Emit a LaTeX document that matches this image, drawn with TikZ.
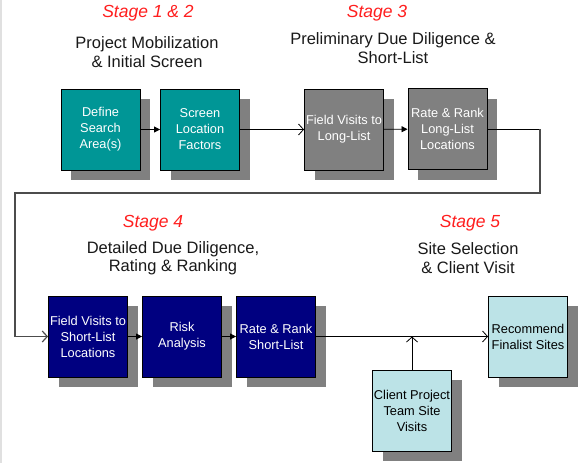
\documentclass[tikz,border=0pt]{standalone}
\usepackage{fontspec}
\setmainfont{Liberation Sans}
\usetikzlibrary{arrows.meta,shadows}

\definecolor{tealbox}{RGB}{0,150,150}
\definecolor{greybox}{RGB}{128,128,128}
\definecolor{navybox}{RGB}{0,0,128}
\definecolor{paleblue}{RGB}{188,227,231}
\definecolor{shadowgrey}{RGB}{128,128,128}
\definecolor{stagered}{RGB}{255,30,30}

\tikzset{
  stepbox/.style={draw=black, line width=0.9pt, minimum width=79pt, minimum height=81pt,
    inner sep=0pt, align=center, font=\fontsize{12.8}{16}\selectfont,
    drop shadow={shadow xshift=10pt, shadow yshift=-10pt, fill=shadowgrey, opacity=1}},
  stagelabel/.style={text=stagered, font=\fontsize{17.5}{20}\selectfont\itshape},
  headlabel/.style={align=center, text=black!90, font=\fontsize{16.5}{18.5}\selectfont},
  solidarrow/.style={-{Triangle[length=6pt,width=6pt]}, line width=0.8pt},
  openarrow/.style={-{Straight Barb[length=5pt,width=11pt]}, line width=0.8pt},
  loopline/.style={draw=black!70, line width=1.6pt}
}

\begin{document}
\begin{tikzpicture}[x=1pt,y=-1pt]
  \useasboundingbox (0,0) rectangle (588,463);
  \draw[black!12, line width=1.5pt] (1,0) -- (1,463);

  \node[stagelabel] (stage12) at (148,13) {Stage 1 \& 2};
  \node[headlabel] (head12) at (147,52) {Project Mobilization\\\& Initial Screen};
  \node[stagelabel] (stage3) at (377,13) {Stage 3};
  \node[headlabel] (head3) at (393,48) {Preliminary Due Diligence \&\\Short-List};
  \node[stagelabel] (stage4) at (153,223) {Stage 4};
  \node[headlabel] (head4) at (173,258) {Detailed Due Diligence,\\Rating \& Ranking};
  \node[stagelabel] (stage5) at (470,223) {Stage 5};
  \node[headlabel] (head5) at (468,258) {Site Selection\\\& Client Visit};

  \node[stepbox, fill=tealbox, text=white] (define) at (100.5,129.5) {Define\\Search\\Area(s)};
  \node[stepbox, fill=tealbox, text=white] (screen) at (200,129.5) {Screen\\Location\\Factors};
  \node[stepbox, fill=greybox, text=white] (fieldlong) at (344,129.5) {Field Visits to\\Long-List};
  \node[stepbox, fill=greybox, text=white] (ratelong) at (447.5,129) {Rate \& Rank\\Long-List\\Locations};

  \node[stepbox, fill=navybox, text=white] (fieldshort) at (88,336.5) {Field Visits to\\Short-List\\Locations};
  \node[stepbox, fill=navybox, text=white] (risk) at (182,336.5) {Risk\\Analysis};
  \node[stepbox, fill=navybox, text=white] (rateshort) at (276,336.5) {Rate \& Rank\\Short-List};
  \node[stepbox, fill=paleblue, text=black] (recommend) at (528,336.5) {Recommend\\Finalist Sites};
  \node[stepbox, fill=paleblue, text=black] (client) at (412,410.5) {Client Project\\Team Site\\Visits};

  \coordinate (loopa) at (540,129);
  \coordinate (loopb) at (15,193);
  \coordinate (meet) at (412,336.5);

  \draw[solidarrow] (define) -- (screen);
  \draw[openarrow] (screen) -- (fieldlong);
  \draw[solidarrow] (fieldlong) -- (ratelong);
  \draw[line width=0.8pt] (ratelong.east) -- (loopa);
  \draw[loopline] (loopa) |- (loopb) -- (loopb |- fieldshort.west);
  \draw[loopline, openarrow, line width=1.2pt] (loopb |- fieldshort.west) -- (fieldshort.west);
  \draw[solidarrow] (fieldshort) -- (risk);
  \draw[solidarrow] (risk) -- (rateshort);
  \draw[openarrow] (rateshort) -- (recommend);
  \draw[openarrow] (client) -- (meet);
\end{tikzpicture}
\end{document}
